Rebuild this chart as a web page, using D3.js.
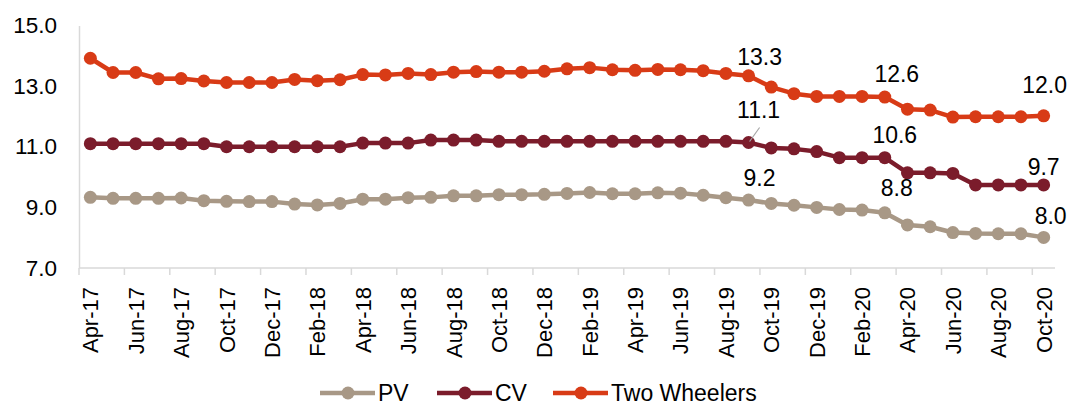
<!DOCTYPE html>
<html>
<head>
<meta charset="utf-8">
<script src="https://cdn.jsdelivr.net/npm/d3@7"></script>
<style>
  html, body { margin: 0; padding: 0; background: #ffffff; }
  svg { display: block; font-family: "Liberation Sans", Arial, sans-serif; }
</style>
</head>
<body>
<svg id="chart" width="1069" height="407"></svg>
<script>
const months = ["Apr-17","May-17","Jun-17","Jul-17","Aug-17","Sep-17","Oct-17","Nov-17","Dec-17","Jan-18","Feb-18","Mar-18",
  "Apr-18","May-18","Jun-18","Jul-18","Aug-18","Sep-18","Oct-18","Nov-18","Dec-18","Jan-19","Feb-19","Mar-19",
  "Apr-19","May-19","Jun-19","Jul-19","Aug-19","Sep-19","Oct-19","Nov-19","Dec-19","Jan-20","Feb-20","Mar-20",
  "Apr-20","May-20","Jun-20","Jul-20","Aug-20","Sep-20","Oct-20"];

const pvValues = [9.33,9.30,9.30,9.30,9.31,9.22,9.20,9.19,9.19,9.11,9.08,9.13,
  9.27,9.27,9.32,9.33,9.38,9.38,9.42,9.42,9.43,9.46,9.49,9.45,
  9.45,9.48,9.47,9.40,9.32,9.24,9.13,9.07,9.00,8.93,8.91,8.82,
  8.42,8.36,8.17,8.14,8.13,8.13,8.01];

const cvValues = [11.10,11.10,11.10,11.10,11.10,11.10,11.00,11.00,11.00,11.00,11.00,11.00,
  11.12,11.12,11.12,11.22,11.22,11.22,11.18,11.18,11.18,11.18,11.18,11.18,
  11.18,11.18,11.18,11.18,11.18,11.14,10.96,10.93,10.84,10.64,10.64,10.64,
  10.14,10.14,10.12,9.74,9.74,9.74,9.74];

const twValues = [13.92,13.45,13.45,13.24,13.25,13.17,13.12,13.12,13.12,13.22,13.18,13.21,
  13.38,13.37,13.42,13.38,13.46,13.48,13.46,13.46,13.49,13.57,13.61,13.54,
  13.52,13.55,13.54,13.51,13.42,13.34,12.97,12.75,12.66,12.66,12.66,12.64,
  12.24,12.21,11.98,11.99,11.99,11.99,12.02];

const seriesNames = ["PV","CV","Two Wheelers"];
const seriesColors = ["#a89886","#7b1c2b","#d83b16"];
const yTicks = [7,9,11,13,15];
const tickMonths = months.filter((m, i) => i % 2 === 0);

// data labels: series index, month
const labelSeries = [2,1,0, 2,1,0, 2,1,0];
const labelMonth  = ["Sep-19","Sep-19","Sep-19","Mar-20","Mar-20","Mar-20","Oct-20","Oct-20","Oct-20"];

const allSeries = [pvValues, cvValues, twValues];

const svg = d3.select("#chart");
const plotLeft = 79, plotRight = 1055, plotTop = 25.5, plotBottom = 268;

const x = d3.scaleBand().domain(months).range([plotLeft, plotRight]).padding(0);
const y = d3.scaleLinear().domain([7, 15]).range([plotBottom, plotTop]);
const cx = m => x(m) + x.bandwidth() / 2;

// y axis
const yAxis = d3.axisLeft(y).tickValues(yTicks).tickSize(0).tickPadding(22).tickFormat(d3.format(".1f"));
const gy = svg.append("g").attr("transform", `translate(${plotLeft},0)`).call(yAxis);
gy.select(".domain").attr("stroke", "#d9d9d9").attr("stroke-width", 1.5);
gy.selectAll("text").attr("font-size", 22.5).attr("fill", "#000").attr("font-family", "Liberation Sans, Arial, sans-serif");

// x axis: ticks between each pair of months
const gx = svg.append("g").attr("transform", `translate(0,${plotBottom})`);
gx.append("line").attr("x1", plotLeft).attr("x2", plotRight).attr("stroke", "#d9d9d9").attr("stroke-width", 1.5);
gx.selectAll("line.tick").data(tickMonths).join("line")
  .attr("class", "tick")
  .attr("x1", d => x(d)).attr("x2", d => x(d))
  .attr("y1", 0).attr("y2", 7)
  .attr("stroke", "#d9d9d9").attr("stroke-width", 1.5);
gx.selectAll("text").data(tickMonths).join("text")
  .attr("transform", d => `translate(${cx(d) + 8},19) rotate(-90)`)
  .attr("text-anchor", "end")
  .attr("font-size", 22)
  .attr("fill", "#000")
  .text(d => d);

// lines and markers
const line = d3.line().x((d, i) => cx(months[i])).y(d => y(d));
allSeries.forEach((vals, s) => {
  const g = svg.append("g");
  g.append("path").datum(vals)
    .attr("d", line)
    .attr("fill", "none")
    .attr("stroke", seriesColors[s])
    .attr("stroke-width", 4.5)
    .attr("stroke-linejoin", "round");
  g.selectAll("circle").data(vals).join("circle")
    .attr("cx", (d, i) => cx(months[i]))
    .attr("cy", d => y(d))
    .attr("r", 6.5)
    .attr("fill", seriesColors[s]);
});

// data labels (offsets relative to point)
const labelOffsets = [[11,-11],[10,-25],[11,-14],[12,-15],[10,-15],[12,-17],[1,-23],[0,-10],[7,-13]];
const fmt = d3.format(".1f");
labelSeries.forEach((s, k) => {
  const m = labelMonth[k];
  const i = months.indexOf(m);
  const v = allSeries[s][i];
  const px = cx(m), py = y(v);
  const [dx, dy] = labelOffsets[k];
  if (k === 1) {
    svg.append("line")
      .attr("x1", px + 1).attr("y1", py - 1)
      .attr("x2", px + 11).attr("y2", py - 15)
      .attr("stroke", "#a6a6a6").attr("stroke-width", 1.2);
  }
  svg.append("text")
    .attr("x", px + dx).attr("y", py + dy)
    .attr("text-anchor", "middle")
    .attr("font-size", 23)
    .attr("fill", "#000")
    .text(fmt(v));
});

// legend
const legendX = [320, 437, 553];
const legendY = 393;
seriesNames.forEach((name, s) => {
  const g = svg.append("g").attr("transform", `translate(${legendX[s]},${legendY})`);
  g.append("line").attr("x1", 0).attr("x2", 55).attr("y1", 0).attr("y2", 0)
    .attr("stroke", seriesColors[s]).attr("stroke-width", 4.5);
  g.append("circle").attr("cx", 28).attr("cy", 0).attr("r", 6.5).attr("fill", seriesColors[s]);
  g.append("text").attr("x", 58).attr("y", 0).attr("dy", "0.35em")
    .attr("font-size", 23).attr("fill", "#000").text(name);
});
</script>
</body>
</html>
